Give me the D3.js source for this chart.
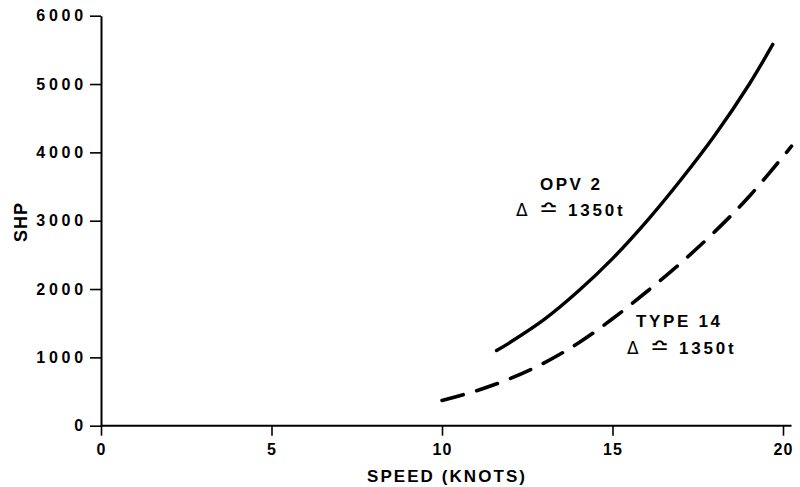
<!DOCTYPE html>
<html><head><meta charset="utf-8">
<script src="https://cdn.jsdelivr.net/npm/d3@7"></script>
<style>
html,body{margin:0;padding:0;background:#fff;}
svg{display:block;}
text{font-family:"Liberation Sans",Arial,sans-serif;font-weight:bold;fill:#000;}
</style></head>
<body>
<script>
// ---- data ----
const xTicks = [0, 5, 10, 15, 20];
const yTicks = [0, 1000, 2000, 3000, 4000, 5000, 6000];
const opvSpeed = [11.6, 12, 13, 14, 15, 16, 17, 18, 19, 19.7];
const opvShp   = [1100, 1220, 1555, 1970, 2445, 2990, 3595, 4250, 4990, 5580];
const t14Speed = [10, 11, 12, 13, 14, 15, 16, 17, 18, 19, 20.25];
const t14Shp   = [370, 510, 690, 920, 1210, 1565, 1960, 2380, 2840, 3350, 4090];
const xTitle = "SPEED (KNOTS)";
const yTitle = "SHP";
const opvName = "OPV  2";
const t14Name = "TYPE  14";
const dispParts = ["\u0394", "\u224F", "1350t"];

const W = 800, H = 487;
const svg = d3.select("body").append("svg").attr("width", W).attr("height", H);

const x = d3.scaleLinear().domain([0, 20]).range([101, 783]);
const y = d3.scaleLinear().domain([0, 6000]).range([425.7, 15.7]);

// x axis
const gx = svg.append("g").attr("transform", `translate(0,${y(0)})`)
  .call(d3.axisBottom(x).tickValues(xTicks).tickSize(10).tickSizeOuter(0).tickPadding(8).tickFormat(d3.format("d")));
gx.select(".domain").remove();
gx.append("line").attr("x1", x(0)).attr("x2", x(20.25)).attr("stroke", "#000").attr("stroke-width", 2);
gx.selectAll(".tick line").attr("stroke-width", 1.6);
gx.selectAll(".tick text").attr("font-size", 16).attr("font-family", "Liberation Sans").attr("font-weight", "bold").attr("letter-spacing", 1);

// y axis
const gy = svg.append("g").attr("transform", `translate(${x(0)},0)`)
  .call(d3.axisLeft(y).tickValues(yTicks).tickSize(11).tickSizeOuter(0).tickPadding(3).tickFormat(d3.format("d")));
gy.select(".domain").attr("stroke-width", 2);
gy.selectAll(".tick line").attr("stroke-width", 1.6);
gy.selectAll(".tick text").attr("font-size", 16).attr("font-family", "Liberation Sans").attr("font-weight", "bold").attr("letter-spacing", 3.8);

// titles
svg.append("text").attr("x", 367).attr("y", 482).attr("font-size", 17)
  .attr("textLength", 158).attr("lengthAdjust", "spacing").text(xTitle);
svg.append("text").attr("transform", "translate(27,222) rotate(-90)").attr("text-anchor", "middle")
  .attr("font-size", 18).attr("letter-spacing", 1).text(yTitle);

// curves
const line = d3.line().x(d => x(d[0])).y(d => y(d[1])).curve(d3.curveCatmullRom.alpha(0.5));
svg.append("path").datum(d3.zip(opvSpeed, opvShp)).attr("d", line)
  .attr("fill", "none").attr("stroke", "#000").attr("stroke-width", 3.4).attr("stroke-linecap", "round");
svg.append("path").datum(d3.zip(t14Speed, t14Shp)).attr("d", line)
  .attr("fill", "none").attr("stroke", "#000").attr("stroke-width", 3.6)
  .attr("stroke-linecap", "round").attr("stroke-dasharray", "22,14");

// annotations
function dispLabel(x0, y0) {
  const t = svg.append("text").attr("y", y0).attr("font-size", 17);
  t.append("tspan").attr("x", x0).attr("font-weight", "normal").attr("font-family", "DejaVu Sans").attr("font-size", 17).text(dispParts[0]);
  t.append("tspan").attr("x", x0 + 23).attr("font-weight", "normal").attr("font-family", "DejaVu Sans").attr("font-size", 23).text(dispParts[1]);
  t.append("tspan").attr("x", x0 + 52).attr("letter-spacing", 2.8).text(dispParts[2]);
  return t;
}
svg.append("text").attr("x", 540).attr("y", 190).attr("font-size", 17).attr("textLength", 60).attr("lengthAdjust", "spacing").text(opvName);
dispLabel(516, 216);
svg.append("text").attr("x", 636).attr("y", 327).attr("font-size", 17).attr("textLength", 84).attr("lengthAdjust", "spacing").text(t14Name);
dispLabel(627, 354);
</script>
</body></html>
